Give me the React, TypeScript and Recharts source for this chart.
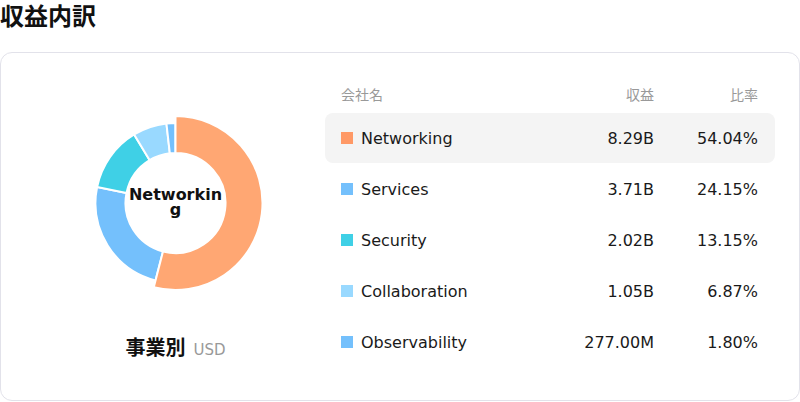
import React from 'react';
import { PieChart, Pie, Cell } from 'recharts';

const categories = ['Networking', 'Services', 'Security', 'Collaboration', 'Observability'];
const revenues = [8.29e9, 3.71e9, 2.02e9, 1.05e9, 277.0e6];
const shares = [54.04, 24.15, 13.15, 6.87, 1.8];
const sliceColors = ['#FFA773', '#74C0FC', '#3FD0E6', '#99D9FF', '#74C0FC'];
const swatchColors = ['#FF9966', '#74C0FC', '#3FD0E6', '#99D9FF', '#74C0FC'];
const headers = ['会社名', '収益', '比率'];
const title = '収益内訳';
const footerLabel = '事業別';
const currency = 'USD';
const activeIndex = 0;

const pieData = categories.map((name, i) => ({ name, value: revenues[i] }));

const fmt = (v: number) => (v >= 1e9 ? (v / 1e9).toFixed(2) + 'B' : (v / 1e6).toFixed(2) + 'M');

const FONT = '"DejaVu Sans", "Noto Sans CJK JP", sans-serif';

export default function App() {
  return (
    <div style={{ position: 'relative', width: 800, height: 402, fontFamily: FONT, overflow: 'hidden', background: '#fff' }}>
      <style>{'body{margin:0;}'}</style>
      <div style={{ position: 'absolute', left: 0, top: 5, fontSize: 24, lineHeight: '24px', fontWeight: 700, color: '#111' }}>{title}</div>
      <div
        style={{
          position: 'absolute',
          left: 0,
          top: 52,
          width: 800,
          height: 349,
          boxSizing: 'border-box',
          border: '1px solid #e2e2ea',
          borderRadius: 12,
        }}
      />
      <div style={{ position: 'absolute', left: 0, top: 0 }}>
        <PieChart width={352} height={402} margin={{ top: 0, right: 0, bottom: 0, left: 0 }}>
          <Pie
            data={pieData}
            dataKey="value"
            nameKey="name"
            cx={175.5}
            cy={203}
            innerRadius={50}
            outerRadius={80}
            startAngle={90}
            endAngle={-270}
            stroke="#fff"
            strokeWidth={2}
            isAnimationActive={false}
          >
            {pieData.map((d, i) => (
              <Cell key={d.name} fill={sliceColors[i]} />
            ))}
          </Pie>
          <Pie
            data={pieData}
            dataKey="value"
            nameKey="name"
            cx={175.5}
            cy={203}
            innerRadius={50}
            outerRadius={87}
            startAngle={90}
            endAngle={-270}
            isAnimationActive={false}
          >
            {pieData.map((d, i) => (
              <Cell
                key={d.name}
                fill={i === activeIndex ? sliceColors[i] : 'transparent'}
                stroke={i === activeIndex ? '#fff' : 'none'}
                strokeWidth={2}
              />
            ))}
          </Pie>
        </PieChart>
      </div>
      <div
        style={{
          position: 'absolute',
          left: 126.5,
          top: 187,
          width: 98,
          textAlign: 'center',
          fontSize: 16,
          lineHeight: '15px',
          fontWeight: 700,
          color: '#111',
          wordBreak: 'break-all',
        }}
      >
        {categories[activeIndex]}
      </div>
      <div
        style={{
          position: 'absolute',
          left: 0,
          top: 336,
          width: 351,
          textAlign: 'center',
          lineHeight: '24px',
          whiteSpace: 'nowrap',
        }}
      >
        <span style={{ fontSize: 20, fontWeight: 700, color: '#111' }}>{footerLabel}</span>
        <span style={{ fontSize: 15, color: '#999', marginLeft: 8 }}>{currency}</span>
      </div>
      <div
        style={{
          position: 'absolute',
          left: 325,
          top: 85,
          width: 450,
          height: 20,
          boxSizing: 'border-box',
          padding: '0 17px 0 16px',
          display: 'flex',
          alignItems: 'center',
          fontSize: 14,
          lineHeight: '20px',
          color: '#999',
        }}
      >
        <div style={{ flex: 1 }}>{headers[0]}</div>
        <div style={{ width: 120, textAlign: 'right' }}>{headers[1]}</div>
        <div style={{ width: 104, textAlign: 'right' }}>{headers[2]}</div>
      </div>
      {categories.map((name, i) => (
        <div
          key={name}
          style={{
            position: 'absolute',
            left: 325,
            top: 113 + 51 * i,
            width: 450,
            height: 50,
            boxSizing: 'border-box',
            padding: '0 17px 0 16px',
            display: 'flex',
            alignItems: 'center',
            fontSize: 16,
            color: '#1a1a1a',
            background: i === activeIndex ? '#f4f4f4' : 'transparent',
            borderRadius: 8,
          }}
        >
          <div style={{ flex: 1, display: 'flex', alignItems: 'center' }}>
            <span style={{ display: 'inline-block', width: 12, height: 12, background: swatchColors[i], marginRight: 8 }} />
            <span>{name}</span>
          </div>
          <div style={{ width: 120, textAlign: 'right' }}>{fmt(revenues[i])}</div>
          <div style={{ width: 104, textAlign: 'right' }}>{shares[i].toFixed(2)}%</div>
        </div>
      ))}
    </div>
  );
}
